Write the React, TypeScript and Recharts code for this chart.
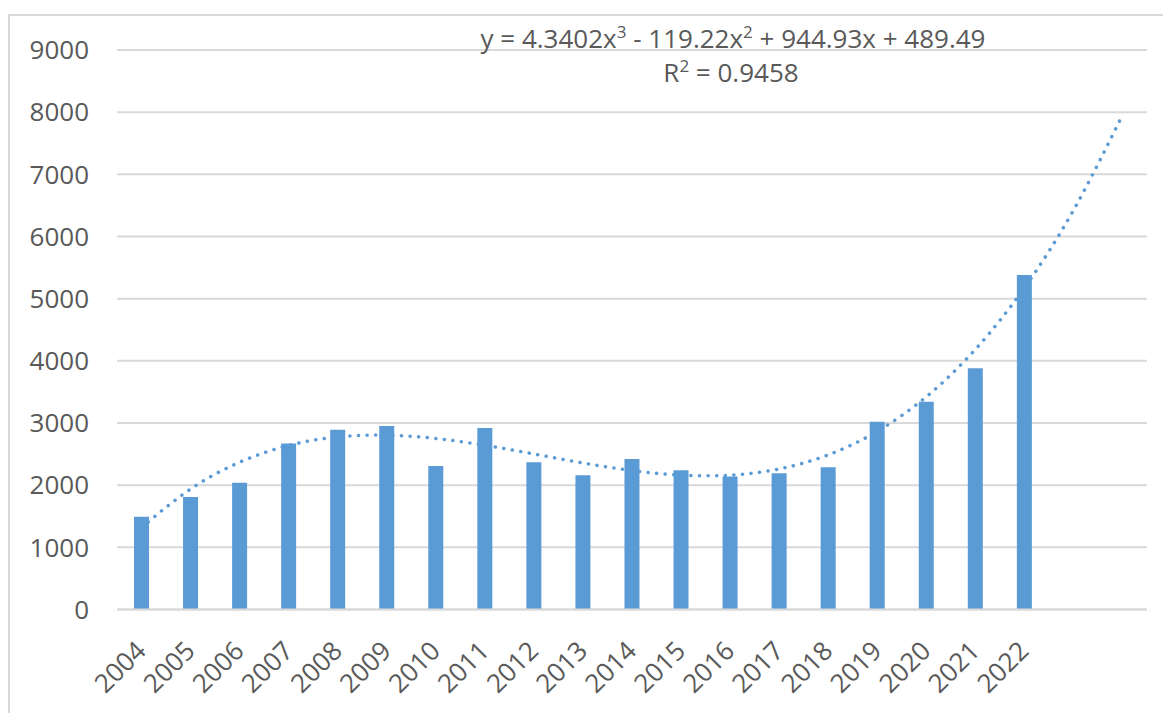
import React from 'react';
import { ComposedChart, Bar, Line, XAxis, YAxis, CartesianGrid } from 'recharts';

// Categories: observed years, followed by two unlabeled forecast periods of the trendline
const years = ['2004', '2005', '2006', '2007', '2008', '2009', '2010', '2011', '2012', '2013',
  '2014', '2015', '2016', '2017', '2018', '2019', '2020', '2021', '2022'];
const forecastPeriods = ['2023', '2024'];

// Bar values
const values = [1490, 1810, 2040, 2670, 2890, 2950, 2310, 2920, 2370, 2160,
  2420, 2240, 2140, 2190, 2290, 3020, 3340, 3880, 5380];

// Polynomial trendline values (as shown by the chart's equation), x = 1..21
const trendValues = [1319.5, 1937.2, 2368.5, 2639.5, 2776.2, 2804.6, 2750.9, 2641.0, 2501.1, 2357.0,
  2234.9, 2160.8, 2160.8, 2260.9, 2487.1, 2865.5, 3422.1, 4183.0, 5174.2, 6421.7, 7951.6];

const yTicks = [0, 1000, 2000, 3000, 4000, 5000, 6000, 7000, 8000, 9000];

const eqParts = ['y = 4.3402x', '3', ' - 119.22x', '2', ' + 944.93x + 489.49'];
const r2Parts = ['R', '2', ' = 0.9458'];

const categories = [...years, ...forecastPeriods];
const data = categories.map((c, i) => ({
  year: c,
  value: i < values.length ? values[i] : null,
  trend: trendValues[i],
}));

const FONT = '"Open Sans", sans-serif';
const TEXT = '#595959';
const BLUE = '#5B9BD5';
const GRID = '#D9D9D9';

const XTick = (props: any) => {
  const { x, y, payload } = props;
  if (!years.includes(payload.value)) return null;
  const tx = x + 6;
  const ty = y + 43;
  return (
    <text
      x={tx}
      y={ty}
      transform={`rotate(-45, ${tx}, ${ty})`}
      textAnchor="end"
      fill={TEXT}
      fontSize={26}
      fontFamily={FONT}
    >
      {payload.value}
    </text>
  );
};

export default function App() {
  return (
    <div style={{ position: 'relative', width: 1163, height: 705, background: '#fff' }}>
      <div
        style={{
          position: 'absolute',
          left: 0,
          top: 6,
          width: 1170,
          height: 720,
          borderTop: `2px solid ${GRID}`,
          borderLeft: `2px solid ${GRID}`,
          boxSizing: 'border-box',
        }}
      />
      <div style={{ position: 'absolute', left: 0, top: 0 }}>
        <ComposedChart
          width={1163}
          height={705}
          data={data}
          margin={{ top: 42, right: 24, left: 0, bottom: 0 }}
          barCategoryGap={0}
        >
          <CartesianGrid vertical={false} stroke={GRID} strokeWidth={2} />
          <XAxis
            dataKey="year"
            height={103.5}
            interval={0}
            tickLine={false}
            tickSize={0}
            tickMargin={0}
            axisLine={{ stroke: GRID, strokeWidth: 2 }}
            tick={<XTick />}
          />
          <YAxis
            width={109}
            domain={[0, 9000]}
            ticks={yTicks}
            interval={0}
            axisLine={false}
            tickLine={false}
            tickSize={0}
            tickMargin={28}
            tick={{ fill: TEXT, fontSize: 26, fontFamily: FONT }}
          />
          <Bar dataKey="value" fill={BLUE} barSize={15} isAnimationActive={false} />
          <Line
            dataKey="trend"
            type="natural"
            stroke={BLUE}
            strokeWidth={3.5}
            strokeDasharray="0.1 8.5"
            strokeLinecap="round"
            dot={false}
            activeDot={false}
            isAnimationActive={false}
          />
        </ComposedChart>
      </div>
      <svg
        width={1163}
        height={120}
        style={{ position: 'absolute', left: 0, top: 0, pointerEvents: 'none' }}
      >
        <text x={725} y={40} textAnchor="middle" fill={TEXT} fontSize={26} fontFamily={FONT}>
          <tspan>{eqParts[0]}</tspan>
          <tspan fontSize={17} dy={-10}>{eqParts[1]}</tspan>
          <tspan dy={10}>{eqParts[2]}</tspan>
          <tspan fontSize={17} dy={-10}>{eqParts[3]}</tspan>
          <tspan dy={10}>{eqParts[4]}</tspan>
        </text>
        <text x={723} y={74} textAnchor="middle" fill={TEXT} fontSize={26} fontFamily={FONT}>
          <tspan>{r2Parts[0]}</tspan>
          <tspan fontSize={17} dy={-10}>{r2Parts[1]}</tspan>
          <tspan dy={10}>{r2Parts[2]}</tspan>
        </text>
      </svg>
    </div>
  );
}
